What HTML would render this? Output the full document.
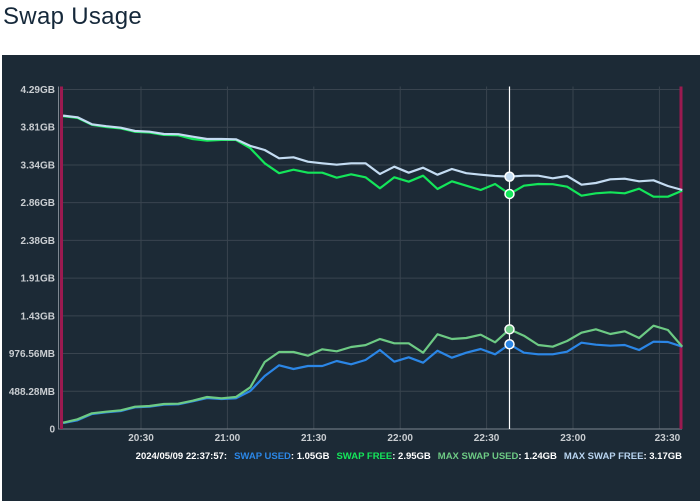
<!DOCTYPE html>
<html><head><meta charset="utf-8"><style>
body{margin:0;width:700px;height:501px;background:#fff;overflow:hidden;font-family:"Liberation Sans",sans-serif;position:relative}
#title{position:absolute;left:3px;top:3px;font-size:24px;color:#15283a;letter-spacing:0.3px}
#panel{position:absolute;left:2px;top:55px;width:698px;height:446px;background:#1c2a36}
svg{position:absolute;left:0;top:0}
#legend{position:absolute;right:18px;top:451px;display:flex;gap:7px;font-size:9.5px;font-weight:bold;white-space:nowrap;color:#fff}
</style></head><body>
<div id="title">Swap Usage</div>
<div id="panel"></div>
<svg id="chart" width="700" height="501"></svg>
<div id="legend">
<div>2024/05/09 22:37:57:</div>
<div><span style="color:#2b86e6">SWAP USED</span>: 1.05GB</div>
<div><span style="color:#14e65a">SWAP FREE</span>: 2.95GB</div>
<div><span style="color:#6dca84">MAX SWAP USED</span>: 1.24GB</div>
<div><span style="color:#b8d4f0">MAX SWAP FREE</span>: 3.17GB</div>
</div>
<script>
const yTickLabels=["0","488.28MB","976.56MB","1.43GB","1.91GB","2.38GB","2.86GB","3.34GB","3.81GB","4.29GB"];
const xTickLabels=["20:30","21:00","21:30","22:00","22:30","23:00","23:30"];
const xTickMinutes=[1230,1260,1290,1320,1350,1380,1410];
const startMinute=1202.95; const stepMinutes=5;
const swapUsed=[0.076,0.110,0.190,0.211,0.228,0.274,0.282,0.307,0.312,0.350,0.392,0.379,0.388,0.480,0.670,0.805,0.759,0.796,0.796,0.860,0.818,0.872,0.999,0.851,0.906,0.838,0.990,0.901,0.965,1.011,0.944,1.071,0.965,0.944,0.944,0.977,1.091,1.066,1.053,1.062,0.999,1.104,1.100,1.040];
const maxSwapUsed=[0.080,0.123,0.198,0.219,0.236,0.282,0.291,0.316,0.320,0.358,0.405,0.388,0.405,0.527,0.847,0.973,0.973,0.927,1.008,0.982,1.037,1.060,1.138,1.083,1.083,0.965,1.197,1.138,1.150,1.192,1.096,1.260,1.180,1.062,1.040,1.112,1.217,1.260,1.201,1.235,1.150,1.306,1.252,1.040];
const maxSwapFree=[3.961,3.940,3.852,3.827,3.809,3.767,3.758,3.729,3.726,3.695,3.666,3.666,3.662,3.578,3.527,3.422,3.435,3.379,3.359,3.341,3.359,3.359,3.224,3.316,3.240,3.303,3.215,3.287,3.233,3.215,3.198,3.190,3.202,3.202,3.169,3.198,3.088,3.110,3.157,3.164,3.131,3.144,3.072,3.021];
const swapFree=[3.955,3.932,3.845,3.818,3.800,3.757,3.748,3.718,3.712,3.666,3.645,3.654,3.654,3.549,3.359,3.233,3.278,3.240,3.240,3.177,3.220,3.182,3.043,3.182,3.126,3.202,3.034,3.131,3.076,3.021,3.097,2.971,3.076,3.097,3.094,3.063,2.949,2.980,2.992,2.980,3.038,2.937,2.937,3.013];
const cursorIndex=31;
const NS="http://www.w3.org/2000/svg";
const svg=document.getElementById('chart');
const tickGB=0.476837, yMaxTicks=9;
const plotL=62, plotR=682, plotT=89.5, plotB=429;
const pxPerMin=86.4/30, x2030=141;
function xs(min){return x2030+(min-1230)*pxPerMin;}
function ys(gb){return plotB-gb/(tickGB*yMaxTicks)*(plotB-plotT);}
function mk(tag,attrs){const e=document.createElementNS(NS,tag);for(const k in attrs)e.setAttribute(k,attrs[k]);svg.appendChild(e);return e;}
yTickLabels.forEach((t,i)=>{
  const y=ys(i*tickGB);
  if(i>0){const g=mk('line',{x1:plotL,x2:plotR,y1:y,y2:y,stroke:'#39444f','stroke-width':1});
  
  }
  const tx=mk('text',{x:55,y:y+3.5,'text-anchor':'end','font-size':'10','font-weight':'bold',fill:'#c9cdd1','font-family':'Liberation Sans, sans-serif'});
  tx.textContent=t;
  
  
});
xTickLabels.forEach((t,i)=>{
  const x=xs(xTickMinutes[i]);
  const g=mk('line',{x1:x,x2:x,y1:plotT-3,y2:plotB,stroke:'#39444f','stroke-width':1});
  
  
  const tx=mk('text',{x:Math.min(x+(i==6?8:0),668),y:441,'text-anchor':'middle','font-size':'10','font-weight':'bold',fill:'#c9cdd1','font-family':'Liberation Sans, sans-serif'});
  tx.textContent=t;
  
  
});
const ax=mk('line',{x1:58,x2:plotR,y1:plotB,y2:plotB,stroke:'#7d8790','stroke-width':1});


const ay=mk('line',{x1:58.5,x2:58.5,y1:plotT-3,y2:plotB,stroke:'#7d8790','stroke-width':1});


[61.5,681].forEach((x,i)=>{
  const r=mk('rect',{x:x-1.5,y:plotT-3,width:3,height:plotB-plotT+3,fill:'#9b1a50'});
  
  
});
function px(i){return xs(startMinute+i*stepMinutes);}
const series=[[swapUsed,'#2b86e6','swap-used-line'],[maxSwapUsed,'#6dca84','max-swap-used-line'],[swapFree,'#14e65a','swap-free-line'],[maxSwapFree,'#c4dcf2','max-swap-free-line']];
series.forEach(s=>{
  const d=s[0].map((v,i)=>(i?'L':'M')+px(i).toFixed(1)+','+ys(v).toFixed(1)).join('');
  const p=mk('path',{d:d,fill:'none',stroke:s[1],'stroke-width':2.2,'stroke-linejoin':'round'});
  
  
});
const cx=px(cursorIndex);
const cl=mk('line',{x1:cx,x2:cx,y1:plotT-3,y2:plotB,stroke:'#ffffff','stroke-width':1.2});


series.forEach(s=>{
  const c=mk('circle',{cx:cx,cy:ys(s[0][cursorIndex]),r:4.5,fill:s[1],stroke:'#ffffff','stroke-width':1.5});
  
  
});
</script>
</body></html>
